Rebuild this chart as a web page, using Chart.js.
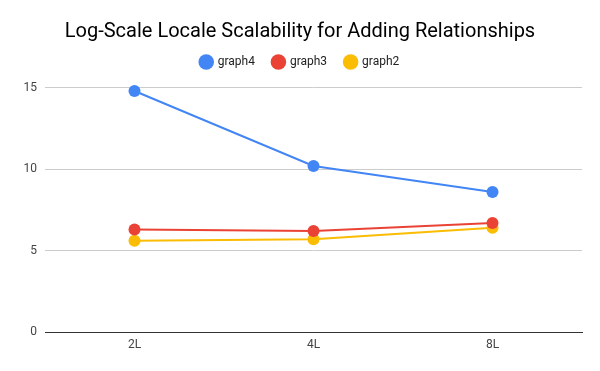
<!DOCTYPE html>
<html>
<head>
<meta charset="utf-8">
<script src="https://cdn.jsdelivr.net/npm/chart.js@4/dist/chart.umd.min.js"></script>
<style>
  html, body { margin: 0; padding: 0; background: #fff; }
  #wrap { width: 600px; height: 371px; }
</style>
</head>
<body>
<div id="wrap"><canvas id="chart" width="600" height="371"></canvas></div>
<script>
const categories = ['2L', '4L', '8L'];
const graph4 = [14.8, 10.2, 8.6];
const graph3 = [6.3, 6.2, 6.7];
const graph2 = [5.6, 5.7, 6.4];
const yTicks = [0, 5, 10, 15];

const font = 'Roboto, Arial, sans-serif';

function series(label, data, color) {
  return {
    label: label,
    data: data,
    borderColor: color,
    backgroundColor: color,
    borderWidth: 2,
    pointRadius: 6,
    pointHoverRadius: 6,
    pointBorderWidth: 0,
    tension: 0
  };
}

new Chart(document.getElementById('chart').getContext('2d'), {
  type: 'line',
  data: {
    labels: categories,
    datasets: [
      series('graph4', graph4, '#4285F4'),
      series('graph3', graph3, '#EA4335'),
      series('graph2', graph2, '#FBBC04')
    ]
  },
  options: {
    responsive: false,
    animation: false,
    clip: false,
    layout: { padding: { left: 18, right: 18, top: 0, bottom: 0 } },
    plugins: {
      title: {
        display: true,
        text: 'Log-Scale Locale Scalability for Adding Relationships',
        color: '#000',
        font: { family: font, size: 20, weight: 'normal', lineHeight: 1 },
        padding: { top: 22, bottom: -4 }
      },
      legend: {
        labels: {
          usePointStyle: true,
          pointStyle: 'circle',
          boxWidth: 11,
          boxHeight: 11,
          padding: 18,
          color: '#222',
          font: { family: font, size: 12 }
        }
      },
      tooltip: { enabled: false }
    },
    scales: {
      x: {
        offset: true,
        grid: { display: false, drawTicks: false },
        border: { display: true, color: '#333', width: 1 },
        ticks: { color: '#444', font: { family: font, size: 12 }, padding: 6 },
        afterFit: s => { s.height = 39; }
      },
      y: {
        min: 0,
        max: 15.6,
        grid: { color: '#ccc', drawTicks: false },
        border: { display: false },
        ticks: { color: '#444', font: { family: font, size: 12 }, padding: 8 },
        afterBuildTicks: s => { s.ticks = yTicks.map(v => ({ value: v })); },
        afterFit: s => { s.width = 27; }
      }
    }
  }
});
</script>
</body>
</html>
